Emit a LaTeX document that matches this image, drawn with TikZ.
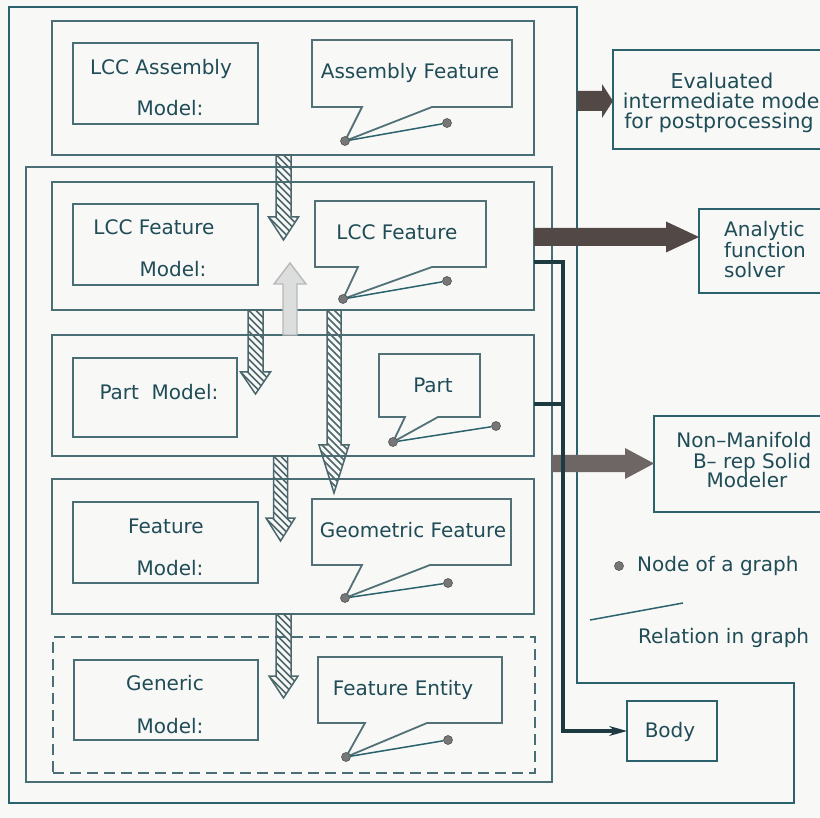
\documentclass[tikz,border=0pt]{standalone}
\usepackage{fontspec}
\setmainfont{DejaVu Sans}
\usetikzlibrary{arrows.meta,calc}
\definecolor{bgc}{HTML}{F8F8F7}
\definecolor{framec}{HTML}{2A636E}
\definecolor{boxc}{HTML}{4A6E76}
\definecolor{txt}{HTML}{1F4C56}
\definecolor{darkl}{HTML}{1C3A40}
\definecolor{arrd}{HTML}{524946}
\definecolor{arrm}{HTML}{6E6664}
\definecolor{hatchc}{HTML}{4C676C}
\definecolor{dotc}{HTML}{767878}
\definecolor{lightarr}{HTML}{DCDEDE}
\newcommand{\rbox}[6]{%
  \node[#1, inner sep=0pt, outer sep=0pt, minimum width={#5-#3}, minimum height={#6-#4}] (#2) at ({(#3+#5)/2},{(#4+#6)/2}) {};}
\newcommand{\darr}[7]{%
  \path[#1] ({#2-#3},#4) -- ({#2+#3},#4) -- ({#2+#3},#5) -- ({#2+#6},#5) -- (#2,#7) -- ({#2-#6},#5) -- ({#2-#3},#5) -- cycle;}
% hatched down arrow: x, shaft half, top, head base, head half, tip
\newcommand{\hdarr}[6]{%
  \begin{scope}
  \clip ({#1-#2},#3) -- ({#1+#2},#3) -- ({#1+#2},#4) -- ({#1+#5},#4) -- (#1,#6) -- ({#1-#5},#4) -- ({#1-#2},#4) -- cycle;
  \foreach \k in {-42,-35,...,200} {\draw[hatchline] ({#1-21},{#3+\k}) -- ({#1+21},{#3+\k+42});}
  \end{scope}
  \darr{hatchout}{#1}{#2}{#3}{#4}{#5}{#6}}
\newcommand{\rarr}[7]{%
  \path[#1] (#4,{#2-#3}) -- (#5,{#2-#3}) -- (#5,{#2-#6}) -- (#7,#2) -- (#5,{#2+#6}) -- (#5,{#2+#3}) -- (#4,{#2+#3}) -- cycle;}
% callout: name, x1,y1,x2,y2, tail left x, tail right x, tip name
\newcommand{\callout}[8]{%
  \draw[calloutline] (#2,#3) -- (#4,#3) -- (#4,#5) -- (#7,#5) -- (#8.center) -- (#6,#5) -- (#2,#5) -- cycle;}
\tikzset{
  boxs/.style={draw=boxc, line width=2pt},
  outbox/.style={draw=framec, line width=2.4pt},
  calloutline/.style={draw=boxc!85!gray, line width=1.8pt, fill=bgc},
  dashbox/.style={draw=boxc, line width=1.8pt, dash pattern=on 11pt off 6pt},
  gdot/.style={circle, fill=dotc, draw=dotc!70!black, line width=0.6pt, inner sep=0pt, minimum size=9pt},
  rel/.style={draw=framec, line width=1.5pt},
  hatchline/.style={draw=hatchc, line width=1.6pt},
  hatchout/.style={draw=hatchc, line width=1.5pt},
  lightarrow/.style={draw=gray!55, line width=1.4pt, fill=lightarr},
  bigarr/.style={fill=arrd},
  midarr/.style={fill=arrm},
  lab/.style={anchor=base, inner sep=0pt, text=txt},
  labw/.style={anchor=base west, inner sep=0pt, text=txt},
  darkline/.style={draw=darkl, line width=3.2pt},
}
\begin{document}
\begin{tikzpicture}[x=1pt, y=-1pt, font=\fontsize{20}{22}\selectfont]
\fill[bgc] (0,0) rectangle (820,818);
\useasboundingbox (0,0) rectangle (820,818);
\clip (0,0) rectangle (820,818);

% outer frame
\draw[draw=framec, line width=2.4pt] (9,7) -- (577,7) -- (577,683) -- (794,683) -- (794,803) -- (9,803) -- cycle;
% inner frame
\rbox{boxs}{inner}{26}{167}{552}{782}

% level boxes
\rbox{boxs}{asmbox}{52}{21}{534}{155}
\rbox{boxs}{lccbox}{52}{182}{534}{310}
\rbox{boxs}{partbox}{52}{335}{534}{456}
\rbox{boxs}{featbox}{52}{479}{534}{614}
\rbox{dashbox}{genbox}{53}{637}{535}{773}

% left boxes
\rbox{boxs}{asmL}{73}{43}{258}{124}
\rbox{boxs}{lccL}{73}{204}{258}{285}
\rbox{boxs}{partL}{73}{358}{237}{437}
\rbox{boxs}{featL}{73}{502}{258}{583}
\rbox{boxs}{genL}{74}{660}{258}{740}

% graph nodes (tips and second dots)
\coordinate (asmTc) at (345,141);
\coordinate (lccTc) at (343,299);
\coordinate (partTc) at (393,442);
\coordinate (geoTc) at (345,598);
\coordinate (entTc) at (346,757);

\node[inner sep=0pt] (asmT) at (asmTc) {};
\node[inner sep=0pt] (lccT) at (lccTc) {};
\node[inner sep=0pt] (partT) at (partTc) {};
\node[inner sep=0pt] (geoT) at (geoTc) {};
\node[inner sep=0pt] (entT) at (entTc) {};

% callouts
\callout{asmC}{312}{40}{512}{107}{362}{432}{asmT}
\callout{lccC}{315}{201}{486}{267}{358}{432}{lccT}
\callout{partC}{379}{354}{480}{417}{405}{438}{partT}
\callout{geoC}{312}{499}{511}{565}{362}{430}{geoT}
\callout{entC}{318}{657}{502}{723}{365}{427}{entT}

\node[gdot] (asmD1) at (asmTc) {};
\node[gdot] (asmD2) at (447,123) {};
\node[gdot] (lccD1) at (lccTc) {};
\node[gdot] (lccD2) at (447,281) {};
\node[gdot] (partD1) at (partTc) {};
\node[gdot] (partD2) at (496,426) {};
\node[gdot] (geoD1) at (geoTc) {};
\node[gdot] (geoD2) at (448,583) {};
\node[gdot] (entD1) at (entTc) {};
\node[gdot] (entD2) at (448,740) {};
\draw[rel] (asmD1) -- (asmD2);
\draw[rel] (lccD1) -- (lccD2);
\draw[rel] (partD1) -- (partD2);
\draw[rel] (geoD1) -- (geoD2);
\draw[rel] (entD1) -- (entD2);

% hatched arrows
\hdarr{283.5}{7.5}{155}{217}{15}{240}
\darr{lightarrow}{290}{7}{335}{284}{16}{263}
\hdarr{255.5}{7.5}{310}{372}{15}{394}
\hdarr{334}{7}{310}{445}{15}{493}
\hdarr{280.5}{7}{456}{518}{14.5}{541}
\hdarr{283.5}{7.5}{614}{676}{14.5}{698}

% right boxes
\rbox{outbox}{evalbox}{613}{50}{830}{149}
\rbox{outbox}{anabox}{699}{209}{830}{293}
\rbox{outbox}{nmbox}{654}{416}{830}{512}
\rbox{outbox}{bodybox}{627}{701}{717}{761}

% big arrows
\rarr{bigarr}{101}{10}{577}{602}{17}{613}
\rarr{bigarr}{237}{9}{534}{666}{15.5}{699}
\rarr{midarr}{463.5}{8.5}{552}{625}{15.5}{654}

% dark connector to Body
\coordinate (j1) at (563,262);
\coordinate (j2) at (563,404);
\coordinate (j3) at (563,731);
\draw[darkline] (lccbox.east |- j1) -- (j1) -- (j3) -- ($(bodybox.west |- j3)+(-14,0)$);
\draw[darkline] (partbox.east |- j2) -- (j2);
\draw[draw=darkl, line width=1.5pt, -{Stealth[length=18pt,width=10pt]}] ($(bodybox.west |- j3)+(-20,0)$) -- (bodybox.west |- j3);

% texts
\node[lab] (t1) at (161,75) {LCC Assembly};
\node[lab] (t2) at (170,116) {Model:};
\node[lab] (t3) at (410,79) {Assembly Feature};
\node[lab] (t4) at (154,235) {LCC Feature};
\node[lab] (t5) at (173,277) {Model:};
\node[lab] (t6) at (397,240) {LCC Feature};
\node[lab] (t7) at (159,400) {Part~~Model:};
\node[lab] (t8) at (433,393) {Part};
\node[lab] (t9) at (166,533) {Feature};
\node[lab] (t10) at (170,575) {Model:};
\node[lab] (t11) at (413,537) {Geometric Feature};
\node[lab] (t12) at (165,690) {Generic};
\node[lab] (t13) at (170,733) {Model:};
\node[lab] (t14) at (403,695) {Feature Entity};

\begin{scope}[font=\fontsize{20.5}{22}\selectfont]
\node[lab] (e1) at (722,89) {Evaluated};
\node[lab] (e2) at (724,109) {intermediate model};
\node[lab] (e3) at (719,129) {for postprocessing};
\end{scope}
\node[labw] (a1) at (724,237) {Analytic};
\node[labw] (a2) at (724,258) {function};
\node[labw] (a3) at (724,278) {solver};
\node[lab] (n1) at (744,447) {Non–Manifold};
\node[lab] (n2) at (752,468) {B– rep Solid};
\node[lab] (n3) at (747,487) {Modeler};
\node[lab] (b1) at (670,737) {Body};

% legend
\node[gdot] (legdot) at (619,566) {};
\node[labw] (legt1) at (637,571) {Node of a graph};
\coordinate (rl1) at (590,620);
\coordinate (rl2) at (683,603);
\draw[rel] (rl1) -- (rl2);
\node[labw] (legt2) at (638,643) {Relation in graph};
\end{tikzpicture}
\end{document}
